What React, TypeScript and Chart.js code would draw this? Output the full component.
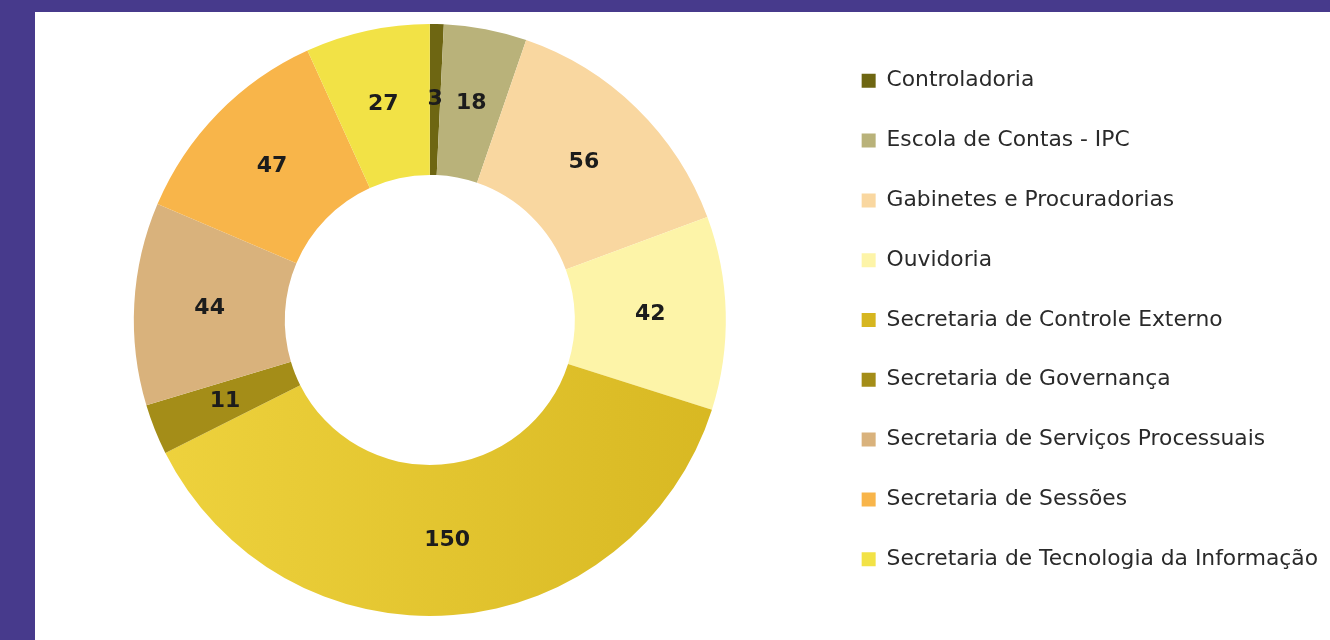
import React, { useEffect, useRef } from "react";
import { Chart, registerables } from "chart.js";

Chart.register(...registerables);

const categories = [
  "Controladoria",
  "Escola de Contas - IPC",
  "Gabinetes e Procuradorias",
  "Ouvidoria",
  "Secretaria de Controle Externo",
  "Secretaria de Governança",
  "Secretaria de Serviços Processuais",
  "Secretaria de Sessões",
  "Secretaria de Tecnologia da Informação",
];

const values = [3, 18, 56, 42, 150, 11, 44, 47, 27];

const colors = [
  "#6e6612",
  "#b9b27a",
  "#f9d7a0",
  "#fdf4a8",
  "#e2c22c",
  "#a48d18",
  "#d9b27c",
  "#f8b54a",
  "#f2e246",
];

const gradientStops = ["#efd33e", "#d6b620"];

const labelPlugin = {
  id: "sliceLabels",
  afterDatasetsDraw(chart: any) {
    const { ctx } = chart;
    const meta = chart.getDatasetMeta(0);
    ctx.save();
    ctx.font = "bold 22px 'DejaVu Sans'";
    ctx.fillStyle = "#1c1c1c";
    ctx.textAlign = "center";
    ctx.textBaseline = "middle";
    meta.data.forEach((arc: any, i: number) => {
      const p = arc.tooltipPosition();
      ctx.fillText(String(chart.data.datasets[0].data[i]), p.x, p.y);
    });
    ctx.restore();
  },
};

export default function App() {
  const ref = useRef<HTMLCanvasElement | null>(null);

  useEffect(() => {
    if (!ref.current) return;
    const chart = new Chart(ref.current, {
      type: "doughnut",
      data: {
        labels: categories,
        datasets: [
          {
            data: values,
            backgroundColor: (c: any) => {
              const i = c.dataIndex;
              const area = c.chart.chartArea;
              if (i === 4 && area) {
                const g = c.chart.ctx.createLinearGradient(area.left + 100, 0, area.right - 60, 0);
                g.addColorStop(0, gradientStops[0]);
                g.addColorStop(1, gradientStops[1]);
                return g;
              }
              return colors[i];
            },
            borderWidth: 0,
          },
        ],
      },
      options: {
        animation: false,
        responsive: true,
        maintainAspectRatio: false,
        cutout: "49%",
        layout: { padding: { top: 12, bottom: 24, left: 1, right: 2 } },
        plugins: {
          tooltip: { enabled: false },
          legend: {
            position: "right",
            align: "center",
            labels: {
              boxWidth: 14,
              boxHeight: 14,
              padding: 38,
              color: "#2a2a2a",
              font: { family: "'DejaVu Sans'", size: 21.8 },
            },
          },
        },
      },
      plugins: [labelPlugin],
    });
    return () => chart.destroy();
  }, []);

  return (
    <div style={{ position: "fixed", inset: 0, background: "#473a8c" }}>
      <div
        style={{
          position: "absolute",
          left: 35,
          top: 12,
          width: 1295,
          height: 628,
          background: "#ffffff",
        }}
      >
        <canvas ref={ref} />
      </div>
    </div>
  );
}
